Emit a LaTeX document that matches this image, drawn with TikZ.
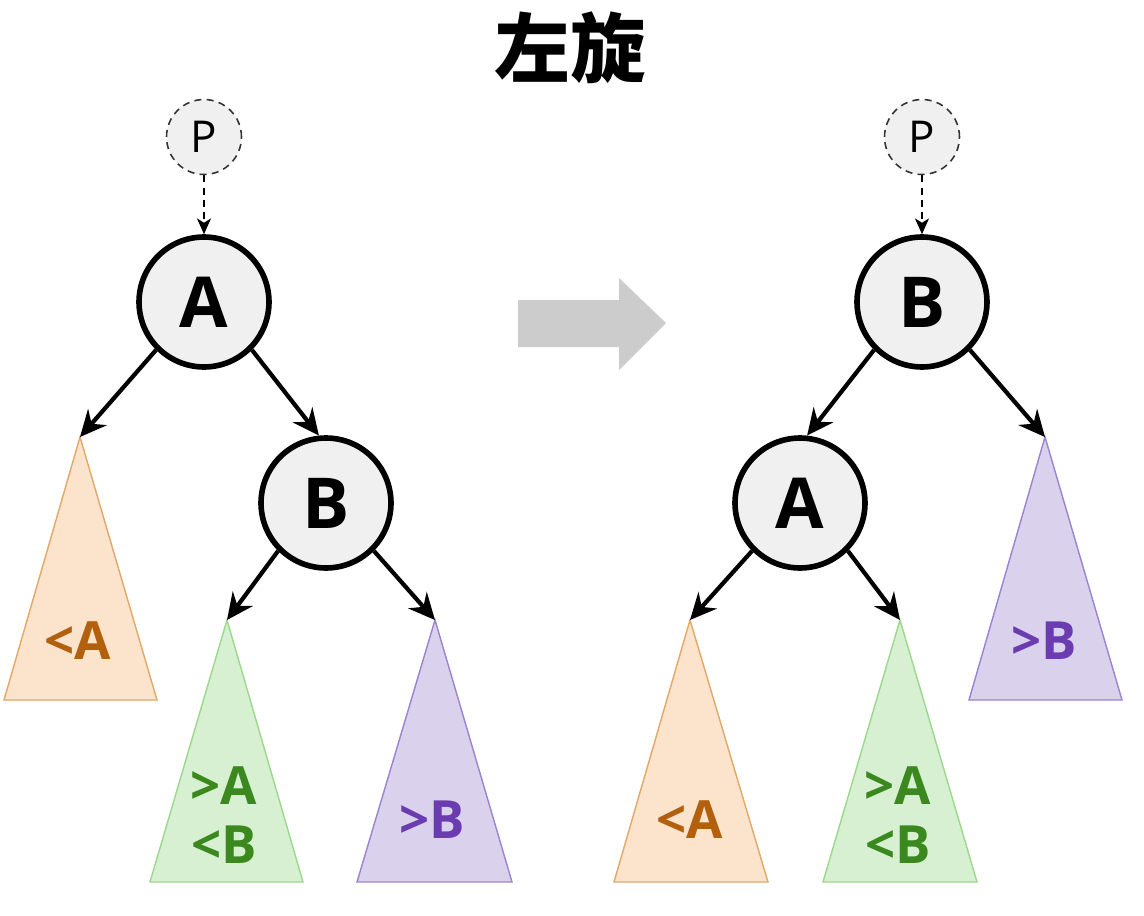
\documentclass[tikz,border=0pt]{standalone}
\usepackage{fontspec}
\setmainfont{Open Sans}
\newfontfamily\cjk{Noto Sans CJK SC}
\usetikzlibrary{arrows.meta}
\definecolor{nodefill}{HTML}{F0F0F0}
\definecolor{orfill}{HTML}{FBE3CC}
\definecolor{ordraw}{HTML}{E2A868}
\definecolor{ortext}{HTML}{B3600E}
\definecolor{grfill}{HTML}{D8F0D2}
\definecolor{grdraw}{HTML}{9AD98C}
\definecolor{grtext}{HTML}{3A881E}
\definecolor{pufill}{HTML}{DAD2EC}
\definecolor{pudraw}{HTML}{9B83D2}
\definecolor{putext}{HTML}{6A3CB0}
\definecolor{bigarrow}{HTML}{CCCCCC}
\tikzset{
  keynode/.style={circle, draw=black, line width=3.2pt, fill=nodefill, minimum size=2.6cm, inner sep=0pt, font=\fontsize{40}{40}\selectfont\bfseries},
  parnode/.style={circle, draw=black!80, dash pattern=on 4pt off 3pt, line width=0.9pt, fill=nodefill, minimum size=1.5cm, inner sep=0pt, font=\fontsize{25}{25}\selectfont},
  edge/.style={line width=2.4pt, -{Stealth[length=15pt,width=14pt,inset=5pt]}},
  paredge/.style={line width=0.9pt, dash pattern=on 4pt off 3pt, -{Stealth[length=9pt,width=8pt,inset=2.5pt]}},
  subtree/.style={line width=0.8pt, line join=miter},
  tlabel/.style={font=\fontsize{30}{34}\selectfont\bfseries, align=center, inner sep=0pt},
}
\begin{document}
\begin{tikzpicture}[x=0.02cm,y=-0.02cm]
\useasboundingbox (0,0) rectangle (1144,916);
\fill[white] (0,0) rectangle (1144,916);
% title
\node[font=\cjk\fontsize{43}{43}\selectfont\bfseries] (title) at (570,48) {左旋};
% big arrow
\fill[bigarrow] (518,300) -- (619,300) -- (619,278) -- (666,323) -- (619,370) -- (619,347) -- (518,347) -- cycle;

% ---------- left tree ----------
\node[parnode] (P1) at (204,137) {P};
\node[keynode] (A1) at (204,302) {A};
\node[keynode] (B1) at (326,503) {B};
\coordinate (tLA) at (80,437);
\coordinate (tLG) at (227,620);
\coordinate (tLP) at (435,620);
\filldraw[subtree, fill=orfill, draw=ordraw] (tLA) -- (157,700) -- (4,700) -- cycle;
\filldraw[subtree, fill=grfill, draw=grdraw] (tLG) -- (303,882) -- (150,882) -- cycle;
\filldraw[subtree, fill=pufill, draw=pudraw] (tLP) -- (512,882) -- (357,882) -- cycle;
\node[tlabel, text=ortext] (lA1) at (78,641) {<A};
\node[tlabel, text=grtext] (lG1) at (224,815) {>A\\<B};
\node[tlabel, text=putext] (lP1) at (432,820) {>B};
\draw[paredge] (P1) -- (A1);
\draw[edge] (A1.south west) -- (tLA);
\draw[edge] (A1.south east) -- (B1.96);
\draw[edge] (B1.south west) -- (tLG);
\draw[edge] (B1.south east) -- (tLP);

% ---------- right tree ----------
\node[parnode] (P2) at (922,137) {P};
\node[keynode] (B2) at (922,302) {B};
\node[keynode] (A2) at (800,503) {A};
\coordinate (tRP) at (1045,437);
\coordinate (tRA) at (690,620);
\coordinate (tRG) at (900,620);
\filldraw[subtree, fill=pufill, draw=pudraw] (tRP) -- (1122,700) -- (969,700) -- cycle;
\filldraw[subtree, fill=orfill, draw=ordraw] (tRA) -- (768,882) -- (614,882) -- cycle;
\filldraw[subtree, fill=grfill, draw=grdraw] (tRG) -- (977,882) -- (823,882) -- cycle;
\node[tlabel, text=putext] (lP2) at (1044,641) {>B};
\node[tlabel, text=ortext] (lA2) at (690,820) {<A};
\node[tlabel, text=grtext] (lG2) at (898,815) {>A\\<B};
\draw[paredge] (P2) -- (B2);
\draw[edge] (B2.south west) -- (A2.84);
\draw[edge] (B2.south east) -- (tRP);
\draw[edge] (A2.south west) -- (tRA);
\draw[edge] (A2.south east) -- (tRG);
\end{tikzpicture}
\end{document}
